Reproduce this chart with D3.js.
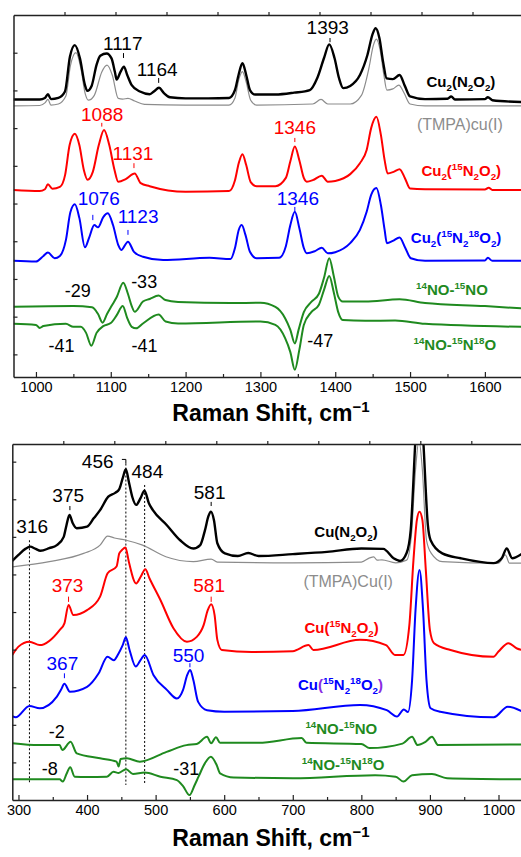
<!DOCTYPE html>
<html>
<head>
<meta charset="utf-8">
<script src="https://cdn.jsdelivr.net/npm/d3@7"></script>
<style>
  body { margin: 0; background: #fff; }
  svg text { font-family: "Liberation Sans", Arial, Helvetica, sans-serif; }
</style>
</head>
<body>
<svg id="chart" width="521" height="857"></svg>
<script>
// ---------- axis ticks ----------
const topTicksX = [1000, 1100, 1200, 1300, 1400, 1500, 1600];
const topMinorX = [1050, 1150, 1250, 1350, 1450, 1550];
const lowTicksX = [300, 400, 500, 600, 700, 800, 900, 1000];
const lowMinorX = [350, 450, 550, 650, 750, 850, 950];
const topTicksY = [6, 16, 26, 36, 46, 56, 66, 76, 86];
const lowTicksY = [10, 20, 30, 40, 50, 60, 70, 80, 90];
const edgeTicks = [1, 2, 3, 4, 5, 6, 7, 8, 9];

// ---------- upper panel spectra: [Raman shift, intensity (offset, a.u.)] ----------
const topGray = [[970,71.9],[1005,72],[1012,72.7],[1016,73.6],[1020,72.1],[1030,72.4],[1040,74.5],[1046,82.5],
  [1053.5,86],[1060,81.9],[1066,75],[1070,73.4],[1078,74.7],[1088,80.9],[1095,82.7],[1102,80.1],[1110,73.9],
  [1116,73.7],[1123,73.9],[1132,73.2],[1145,72.3],[1200,72.1],[1258,72.1],[1266,74],[1271,78.8],[1276,81],
  [1281,78.2],[1287,73.4],[1295,72.1],[1370,72.4],[1381,73.6],[1390,72.4],[1420,72.4],[1435,74.7],[1445,81.9],
  [1451,88],[1455,89.6],[1460,86.7],[1465,80.1],[1469,76.1],[1477,76.4],[1485,77.4],[1492,75.3],[1500,72.4],
  [1520,71.9],[1650,71.9]];
const topBlack = [[970,73.6],[1005,73.6],[1012,74],[1016,75],[1020,73.7],[1030,74],[1038.8,75.7],[1045.4,84.9],
  [1052,88],[1058.8,84.5],[1065.5,77.4],[1068.6,75.9],[1074.4,77.2],[1081,82.8],[1086,85.2],[1094.5,85.8],
  [1101,84.5],[1105.6,80.8],[1107.8,78.9],[1113,80.9],[1117.6,82.3],[1122,80.1],[1128,77.4],[1139,75.7],
  [1152,75],[1158,75.8],[1164.4,76.7],[1171,75.3],[1179,74.2],[1200,73.9],[1230,73.9],[1258,74],[1266,76.1],
  [1271,80.3],[1276,83.2],[1281,80.1],[1286,76.1],[1293,74.9],[1320,74.9],[1345,75.4],[1366,76.1],[1376,79.3],
  [1385,84.6],[1392,88.2],[1399,84.6],[1405,79.3],[1410.7,76.6],[1420,77.2],[1433,80.1],[1443,85.4],[1450,91],
  [1454,92.5],[1459,89.9],[1464,83.5],[1468.7,79.2],[1477,79],[1486,80.1],[1493,77.2],[1500,74.4],[1520,73.7],
  [1550,73.8],[1555,74.4],[1560,73.6],[1600,73.7],[1604,74.2],[1610,73.4],[1650,72.9]];
const topRed = [[970,49.6],[1005,49.3],[1012,49.8],[1016,51.1],[1022,49.9],[1032,50.4],[1039,53.6],[1045,61.5],
  [1052,64.5],[1058,61.5],[1064,54.9],[1069,52.3],[1076,54.4],[1084,61.5],[1091,65.5],[1098,61.5],[1105,54.9],
  [1110,51.8],[1120,52.5],[1132,54],[1140,51.4],[1152,50.6],[1200,49.1],[1258,49.3],[1266,52.2],[1271,56.7],
  [1276,59.1],[1281,56.2],[1287,51.7],[1295,50.6],[1320,50.6],[1334,52.8],[1340,57.2],[1346,61.1],[1352,57.5],
  [1358,52.8],[1362,51.8],[1370,52.2],[1382,53.4],[1390,51.8],[1400,52],[1420,53.8],[1433,56.7],[1442,60.2],
  [1448,66],[1455,69],[1461,64.2],[1466,57.5],[1470,54],[1478,54.4],[1486,55.1],[1493,52.8],[1500,50],
  [1520,49.8],[1600,49.7],[1605,50.2],[1610,49.6],[1650,49.6]];
const topBlue = [[970,30.8],[1000,30.6],[1010,32.1],[1016,33],[1025,31.5],[1032,32.1],[1040,36.3],[1046,43.7],
  [1052,45.8],[1058,42.2],[1065.5,34.4],[1071,36.9],[1078,40.3],[1083,39.7],[1090,42.4],[1096,43.4],[1103,40.3],
  [1110,35],[1114,33.7],[1123,35.9],[1131,33.2],[1143,31.9],[1170,31],[1232,31.6],[1260,31.3],[1266,34.2],
  [1271,39],[1275,40.3],[1280,37.7],[1286,33.2],[1295,31.5],[1325,31.6],[1334,34.7],[1340,40.3],[1346,43.8],
  [1352,39.5],[1358,34.2],[1362,32.8],[1373,33.4],[1382,34.3],[1390,32.8],[1400,33.1],[1420,35.5],[1433,39],
  [1442,43.8],[1448,48.3],[1455,50.1],[1461,45.6],[1466,39],[1469,35.5],[1477,36.1],[1486,37],[1493,34.5],
  [1501,31.5],[1520,30.8],[1600,30.9],[1604,31.6],[1610,30.8],[1650,30.8]];
const topGreenA = [[970,18.6],[1050,18.8],[1075,18.5],[1083,16.7],[1089,14.4],[1095,16.7],[1101,18.8],[1108,21.2],
  [1116.7,25],[1123,22],[1128,18.8],[1132,17.3],[1143,20],[1152,20.7],[1164,21.6],[1173,20.4],[1190,19.9],
  [1260,19.6],[1300,19.7],[1320,18.6],[1333,15.6],[1340,12.5],[1346,8.9],[1351,12.5],[1358,17.2],[1368,19.9],
  [1378,22],[1385,26.3],[1392,31.5],[1398,26.8],[1404,21.3],[1410,20],[1440,20],[1486,20.6],[1520,19.6],
  [1600,18.8],[1650,18.2]];
const topGreenB = [[970,14.1],[1000,13.8],[1005,13],[1010,13.5],[1040,14.1],[1050,13.3],[1060,13.3],[1067,11.7],
  [1074,8.3],[1081,11.7],[1090,13.5],[1100,14.3],[1108,16.4],[1116,18.8],[1122,15.6],[1128,13.3],[1134,12.9],
  [1143,14.2],[1164,16.6],[1173.3,14.7],[1190,14.2],[1300,14.7],[1320,13.8],[1333,10.3],[1340,6.6],[1346,1.9],
  [1352,7.2],[1358,13.8],[1368,17.2],[1378,19.1],[1385,23.1],[1392,26.8],[1398,22.5],[1404,17.2],[1410,15.1],
  [1440,14.9],[1480,15],[1520,14.1],[1650,13.3]];

// ---------- lower panel spectra ----------
const lowGray = [[291,62],[345,63.4],[395,65.6],[419,67.8],[430,70.2],[440,69.7],[457,69.1],[481,67.8],[515,64.7],
  [555,63.4],[581,64.1],[590,63.3],[700,63.1],[800,63.3],[812,64.4],[818,64.7],[823,63.8],[830,63.9],[850,63.1],
  [866,63.8],[873,70.5],[879,87.8],[884,95.7],[889,87.8],[895,69.1],[902,65.6],[918,63.4],[1000,63],[1010,65.2],
  [1016,63],[1035,63]];
const lowBlack = [[291,63.6],[300,65.2],[310,66.8],[317,67.4],[325,66.8],[332,66.3],[345,67],[356,67.8],[366,70],
  [370,73.1],[374.4,75.8],[379,73.7],[385,72.3],[400,72.7],[410,75],[419,77.1],[431,80.7],[441,81.7],[447,82.7],
  [452,85.6],[456.6,88],[461,84.6],[466,80.6],[471.6,78.5],[478,80.3],[483.8,82.3],[490,79],[496,77.1],
  [516.4,73.1],[535.8,69.1],[555,66.9],[565,67.8],[572,71.8],[577,75.5],[580.6,76.7],[585,74.5],[590,68.3],
  [601,65.6],[620,64.9],[635,65.7],[650,64.9],[700,65.4],[750,66],[800,66.9],[832,66.8],[847,64.3],[856.6,63.6],
  [866,65.7],[872,71.8],[878.5,94.7],[884.5,114],[890.6,94.7],[897,73.1],[901,69.1],[918,65.6],[945,64.3],
  [992.7,63],[1005,64.4],[1012,66.9],[1020,64.3],[1035,65.6]];
const lowRed = [[291,38.6],[300,40.8],[316,42.1],[331,41.2],[360,45.2],[367,47],[373,51.9],[380,49.2],[400,50.5],
  [419,54.1],[430,60.3],[443,62.1],[447,65.6],[451,66.5],[456,67.2],[461,63.3],[471.6,57.6],[478,59.3],
  [485,61.4],[491,59],[507,53.2],[526,45.7],[545.6,42.1],[560,43.4],[570,46.5],[576,50.5],[581,52.1],[586,49.2],
  [590,42.6],[596.6,39.9],[640,39.4],[700,39.6],[723,41.2],[730,39.9],[798,42.6],[836,41.2],[849,38.6],
  [861.5,38.6],[870,46.5],[876,63.8],[881,74.5],[884.8,76.7],[889,74.5],[894,61.2],[900,45.2],[906,41.7],
  [930,39.9],[992.7,38.1],[1000,39.5],[1014.6,41.7],[1027,40.3],[1035,39.9]];
const lowBlue = [[291,22.3],[296,22],[316,25],[331,24.4],[356,27.5],[362,29.3],[367,30.9],[375,28.8],[400,30.1],
  [417,33.7],[429.8,38.1],[439,37.2],[446,39],[452,41.2],[456.6,43.3],[462,39.9],[471,35.5],[478,37.2],[484,38.6],
  [497,33.2],[516.4,29.3],[531,27],[540,29.3],[546,33.2],[550.4,34.6],[555,31.9],[562,26.1],[575,23.9],
  [600,23.5],[700,23.7],[798,25.3],[837,23.9],[852,22.2],[862,24.1],[868,23.4],[874,31.9],[879,50.5],
  [884.8,61.2],[890,50.5],[895,31.9],[901,24.4],[915,23.5],[993,22],[1013.5,24.8],[1035,23.5]];
const lowGreenA = [[291,15.1],[330,14.6],[360,14.6],[364,13.3],[376,15.5],[385,12.4],[419,11.1],[443,10.2],
  [446,8.9],[449,10.9],[458,11.1],[477,10.2],[516,12.8],[545,14.6],[560,14.9],[575,16.8],[581,15.1],[588,16.7],
  [594,15.2],[650,15.2],[713,16.5],[720,15.2],[800,14.9],[812,13.8],[860,15],[874,16.8],[882,14.6],[893,15.4],
  [903,16.8],[912,14.6],[1035,14.8]];
const lowGreenB = [[291,5.5],[360,5.5],[364.7,4.9],[370,6.9],[375.4,8.7],[382,6.2],[400,6.1],[429,6.2],
  [438.5,7.5],[446,7.2],[457,8.2],[467,6.9],[484,7.3],[507,6.2],[531,5.3],[540,3.7],[549.4,1.3],[557,4],
  [562.6,6.2],[572,9.8],[580.6,11.5],[589,9.3],[594,7.1],[614,6],[700,5.8],[820,6.6],[850,6.2],[861.5,4.9],
  [874,6.6],[903,6.9],[925,5.8],[1035,5.5]];

// ---------- annotations ----------
const topPeakNotes = [
  {t: "1117", x: 1117, lx: 1116, y: 86.7, tick: [85.9, 84.6], c: "black"},
  {t: "1164", x: 1164, lx: 1162, y: 79.8, tick: [79.3, 78.0], c: "black"},
  {t: "1393", x: 1393, lx: 1390, y: 90.9, tick: [89.9, 88.8], c: "black"},
  {t: "1088", x: 1088, lx: 1088.5, y: 68.0, tick: [67.4, 66.4], c: "red"},
  {t: "1131", x: 1131, lx: 1129.6, y: 57.5, tick: [56.7, 55.4], c: "red"},
  {t: "1346", x: 1346, lx: 1346, y: 64.4, tick: [63.4, 62.3], c: "red"},
  {t: "1076", x: 1076, lx: 1084, y: 45.6, tick: [43.0, 41.6], c: "blue"},
  {t: "1123", x: 1123, lx: 1136.5, y: 40.8, tick: [39.0, 37.7], c: "blue"},
  {t: "1346", x: 1346, lx: 1350, y: 45.6, tick: [45.1, 44.0], c: "blue"}
];
const topShiftNotes = [
  {t: "-29", lx: 1056, y: 21.3}, {t: "-33", lx: 1144.6, y: 23.5},
  {t: "-41", lx: 1034.3, y: 6.7}, {t: "-41", lx: 1145, y: 6.7}, {t: "-47", lx: 1380, y: 8.0}
];
const lowPeakNotes = [
  {t: "316", lx: 320, y: 70.9, c: "black"},
  {t: "375", x: 375, lx: 372.5, y: 79.3, tick: [78.2, 77.1], c: "black"},
  {t: "456", lx: 415.5, y: 88.4, c: "black"},
  {t: "484", lx: 488, y: 85.7, c: "black"},
  {t: "581", x: 581, lx: 578.8, y: 80.2, tick: [79.3, 78.2], c: "black"},
  {t: "373", x: 373, lx: 371.5, y: 55.2, tick: [54.1, 52.7], c: "red"},
  {t: "581", x: 581, lx: 578, y: 55.2, tick: [54.1, 52.7], c: "red"},
  {t: "367", x: 367, lx: 364, y: 34.6, tick: [33.7, 32.4], c: "blue"},
  {t: "550", x: 550, lx: 548, y: 36.8, tick: [36.4, 35.3], c: "blue"}
];
const lowShiftNotes = [
  {t: "-2", lx: 356, y: 16.4}, {t: "-8", lx: 345.5, y: 6.6}, {t: "-31", lx: 544.8, y: 6.6}
];
// dotted guide lines: [shift, from, to]
const lowGuides = [[316, 69.1, 4.4], [456.6, 89.5, 4.0], [484, 83.8, 4.4]];
const hook456 = [[450.8, 90.6], [456.6, 90.6], [456.6, 89.5]];

const topNames = [
  {t: "Cu_2(N_2O_2)", x: 1568, y: 76.8, c: "black"},
  {t: "(TMPA)cu(I)", x: 1566.6, y: 65.5, c: "#8c8c8c", plain: true},
  {t: "Cu_2(^15N_2O_2)", x: 1568.4, y: 53.3, c: "red"},
  {t: "Cu_2(^15N_2^18O_2)", x: 1561.5, y: 35.6, c: "blue"},
  {t: "^14NO-^15NO", x: 1556.2, y: 21.7, c: "#1f8a1f"},
  {t: "^14NO-^15N^18O", x: 1560, y: 7.2, c: "#1f8a1f"}
];
const lowNames = [
  {t: "Cu(N_2O_2)", x: 777.6, y: 69.9, c: "black"},
  {t: "(TMPA)Cu(I)", x: 780.8, y: 56.7, c: "#8c8c8c", plain: true},
  {t: "Cu(^15N_2O_2)", x: 771.3, y: 44.4, c: "red"},
  {t: "Cu(^15N_2^18O_2)", x: 769.6, y: 29.3, c: "blue", paren: "#8a2be2"},
  {t: "^14NO-^15NO", x: 771, y: 17.6, c: "#1f8a1f"},
  {t: "^14NO-^15N^18O", x: 773.5, y: 8.0, c: "#1f8a1f"}
];

const GREEN = "#1f8a1f";
const svg = d3.select("#chart");

// text with _x subscripts and ^nn superscripts, centred at cx
function richText(g, str, cx, by, opts) {
  const t = g.append("text").attr("x", 0).attr("y", by)
    .attr("fill", opts.color).attr("font-size", opts.size)
    .attr("font-weight", opts.bold ? "bold" : "normal");
  const tokens = str.match(/\^\d+|_\d|[^\^_]+/g);
  let shift = 0;
  tokens.forEach(tok => {
    let kind = "n", s = tok;
    if (tok[0] === "^") { kind = "sup"; s = tok.slice(1); }
    else if (tok[0] === "_") { kind = "sub"; s = tok.slice(1); }
    const target = kind === "sup" ? -opts.size * 0.38 : kind === "sub" ? opts.size * 0.25 : 0;
    const pieces = (kind === "n" && opts.paren) ? s.split(/([()])/).filter(d => d) : [s];
    pieces.forEach((pc, i) => {
      const ts = t.append("tspan").text(pc);
      if (i === 0) { ts.attr("dy", target - shift); shift = target; }
      if (kind !== "n") ts.attr("font-size", opts.size * 0.65);
      if (opts.paren && (pc === "(" || pc === ")")) ts.attr("fill", opts.paren);
    });
  });
  const w = t.node().getBBox().width;
  t.attr("x", cx - w / 2);
  return t;
}

function drawPanel(p) {
  const x = d3.scaleLinear().domain(p.xDomain).range([p.left, p.right]);
  const y = d3.scaleLinear().domain(p.yDomain).range([p.bottom, p.top]);
  const edge = d3.scaleLinear().domain([0, 10]).range([p.left, p.left + 510]);
  const g = svg.append("g");

  const clipId = "clip-" + p.id;
  svg.append("clipPath").attr("id", clipId).append("rect")
    .attr("x", p.left).attr("y", p.top).attr("width", p.right - p.left).attr("height", p.bottom - p.top);

  // dotted guides
  (p.guides || []).forEach(d => {
    g.append("line").attr("x1", x(d[0])).attr("x2", x(d[0]))
      .attr("y1", y(d[1])).attr("y2", y(d[2]))
      .attr("stroke", "#000").attr("stroke-width", 1).attr("stroke-dasharray", "2,2");
  });
  if (p.hook) {
    g.append("path").attr("d", d3.line().x(d => x(d[0])).y(d => y(d[1]))(p.hook))
      .attr("fill", "none").attr("stroke", "#000").attr("stroke-width", 1);
  }

  const line = d3.line().x(d => x(d[0])).y(d => y(d[1])).curve(d3.curveMonotoneX);
  p.series.forEach(s => {
    g.append("path").datum(s.data).attr("d", line)
      .attr("fill", "none").attr("stroke", s.color).attr("stroke-width", s.w)
      .attr("stroke-linejoin", "round").attr("clip-path", `url(#${clipId})`);
  });

  // axes / frame
  const ax = g.append("g").attr("transform", `translate(0,${p.bottom})`)
    .call(d3.axisBottom(x).tickValues(p.ticksX).tickSize(-5).tickSizeOuter(0).tickPadding(5).tickFormat(d3.format("d")));
  ax.selectAll("text").attr("font-size", 14.5).attr("fill", "#000").style("font-family", "Liberation Sans, Arial, sans-serif");
  g.append("g").attr("transform", `translate(0,${p.bottom})`)
    .call(d3.axisBottom(x).tickValues(p.minorX).tickSize(-3).tickFormat(""))
    .select(".domain").remove();
  g.append("g").attr("transform", `translate(0,${p.top})`)
    .call(d3.axisTop(edge).tickValues(edgeTicks).tickSize(3).tickSizeOuter(0).tickFormat(""));
  g.append("g").attr("transform", `translate(${p.left},0)`)
    .call(d3.axisLeft(y).tickValues(p.ticksY).tickSize(-4).tickSizeOuter(0).tickFormat(""));
  g.selectAll(".domain").attr("stroke", "#222").attr("stroke-width", 1.5);
  g.selectAll(".tick line").attr("stroke", "#222").attr("stroke-width", 1.2);

  // peak labels
  p.peaks.forEach(d => {
    g.append("text").attr("x", x(d.lx)).attr("y", y(d.y)).attr("text-anchor", "middle")
      .attr("font-size", 19).attr("fill", d.c).text(d.t);
    if (d.tick) {
      g.append("line").attr("x1", x(d.x)).attr("x2", x(d.x))
        .attr("y1", y(d.tick[0])).attr("y2", y(d.tick[1]))
        .attr("stroke", d.c).attr("stroke-width", 1);
    }
  });
  p.shifts.forEach(d => {
    g.append("text").attr("x", x(d.lx)).attr("y", y(d.y)).attr("text-anchor", "middle")
      .attr("font-size", 18).attr("fill", "#000").text(d.t);
  });
  p.names.forEach(d => {
    richText(g, d.t, x(d.x), y(d.y), {color: d.c, size: d.plain ? 16 : 15, bold: !d.plain, paren: d.paren});
  });

  // axis title
  const tt = g.append("text").attr("x", 0).attr("y", p.titleY)
    .attr("font-size", 23).attr("font-weight", "bold").attr("fill", "#000");
  tt.append("tspan").text("Raman Shift, cm");
  tt.append("tspan").attr("dy", -9).attr("font-size", 15).text("\u22121");
  const w = tt.node().getBBox().width;
  tt.attr("x", 271 - w / 2);
}

drawPanel({
  id: "top", xDomain: [970, 1650], yDomain: [0, 96],
  left: 13.5, right: 522.3, top: 15, bottom: 377, titleY: 421,
  ticksX: topTicksX, minorX: topMinorX, ticksY: topTicksY,
  series: [
    {data: topGray, color: "#8c8c8c", w: 1.2},
    {data: topBlack, color: "#000", w: 2.4},
    {data: topRed, color: "red", w: 2},
    {data: topBlue, color: "blue", w: 2},
    {data: topGreenA, color: GREEN, w: 2},
    {data: topGreenB, color: GREEN, w: 2}
  ],
  peaks: topPeakNotes, shifts: topShiftNotes, names: topNames
});

drawPanel({
  id: "low", xDomain: [291, 1035], yDomain: [0, 94.7],
  left: 12.3, right: 522.5, top: 444, bottom: 800, titleY: 846,
  ticksX: lowTicksX, minorX: lowMinorX, ticksY: lowTicksY,
  series: [
    {data: lowGray, color: "#8c8c8c", w: 1.2},
    {data: lowBlack, color: "#000", w: 2.4},
    {data: lowRed, color: "red", w: 2},
    {data: lowBlue, color: "blue", w: 2},
    {data: lowGreenA, color: GREEN, w: 2},
    {data: lowGreenB, color: GREEN, w: 2}
  ],
  guides: lowGuides, hook: hook456,
  peaks: lowPeakNotes, shifts: lowShiftNotes, names: lowNames
});
</script>
</body>
</html>
